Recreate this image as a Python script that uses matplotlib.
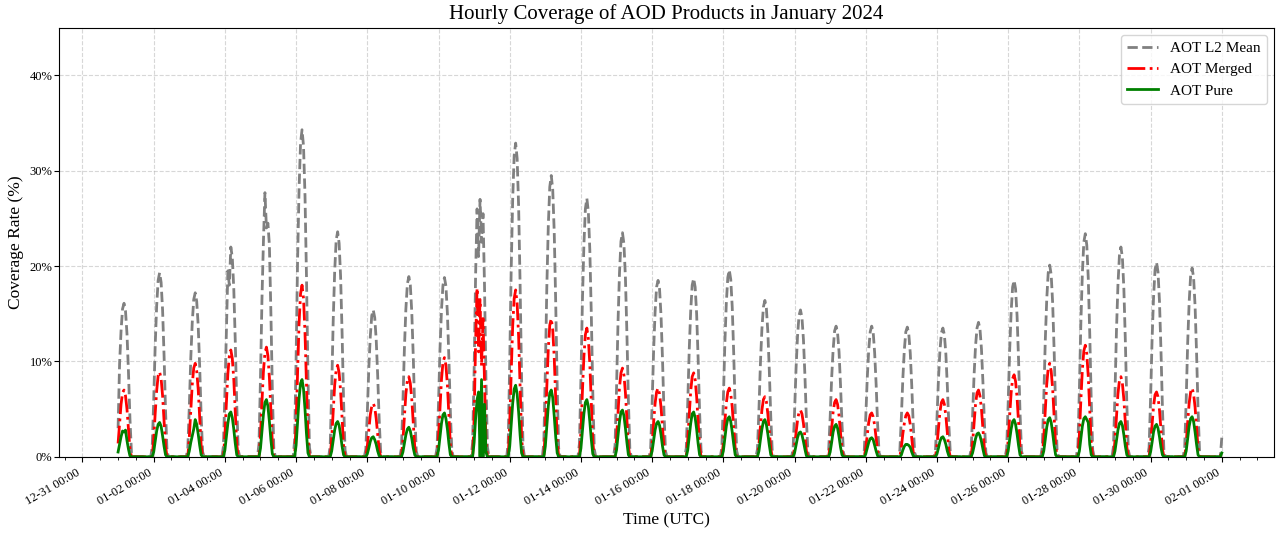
import numpy as np
import pandas as pd
import matplotlib
matplotlib.use("Agg")
import matplotlib.pyplot as plt
import matplotlib.dates as mdates
from matplotlib.ticker import PercentFormatter

plt.rcParams['font.family'] = ['Liberation Serif', 'DejaVu Serif']

# hour of the day for each value in a row (-1 = 23:00 of the previous day)
day_hours = [-1, 0, 1, 2, 3, 4, 5, 6, 7, 8, 9]

# coverage rate (%), one row per day of January 2024
l2_mean = [
    [0.0, 3.0, 9.7, 13.2, 15.5, 16.1, 15.3, 12.9, 8.9, 4.0, 0.5],
    [1.0, 5.8, 11.6, 15.8, 18.5, 19.3, 18.3, 15.4, 10.6, 4.8, 0.6],
    [0.9, 5.2, 10.3, 14.1, 16.5, 17.2, 16.3, 13.8, 9.5, 4.3, 0.5],
    [1.1, 6.6, 13.2, 19.5, 18.0, 22.0, 20.9, 17.6, 12.1, 5.5, 0.7],
    [1.4, 8.3, 16.6, 22.7, 27.7, 24.0, 24.5, 22.2, 15.2, 6.9, 0.8],
    [1.7, 10.3, 20.6, 28.1, 32.9, 34.3, 32.6, 27.4, 18.9, 8.6, 1.0],
    [1.2, 7.1, 14.2, 19.4, 22.7, 23.6, 22.4, 18.9, 13.0, 5.9, 0.7],
    [0.8, 4.6, 9.2, 12.6, 14.8, 15.4, 14.6, 12.3, 8.5, 3.9, 0.5],
    [0.9, 5.7, 11.3, 15.5, 18.1, 18.9, 18.0, 15.1, 10.4, 4.7, 0.6],
    [0.9, 5.6, 11.3, 15.4, 18.0, 18.8, 17.9, 15.0, 10.3, 4.7, 0.6],
    [1.5, 9.0, 19.0, 26.0, 21.0, 27.0, 22.5, 25.5, 18.0, 8.0, 1.0],
    [1.6, 9.9, 19.7, 27.0, 31.6, 32.9, 31.3, 26.3, 18.1, 8.2, 1.0],
    [1.5, 8.9, 17.7, 24.2, 28.3, 29.5, 28.0, 23.6, 16.2, 7.4, 0.9],
    [1.4, 8.1, 16.3, 22.2, 26.0, 27.1, 25.7, 21.7, 14.9, 6.8, 0.8],
    [1.2, 7.1, 14.1, 19.3, 22.6, 23.5, 22.3, 18.8, 12.9, 5.9, 0.7],
    [0.9, 5.6, 11.1, 15.2, 17.8, 18.5, 17.6, 14.8, 10.2, 4.6, 0.6],
    [0.9, 5.6, 11.2, 15.3, 18.0, 18.7, 17.8, 15.0, 10.3, 4.7, 0.6],
    [1.0, 5.9, 11.8, 16.1, 18.8, 19.6, 18.6, 15.7, 10.8, 4.9, 0.6],
    [0.8, 4.9, 9.8, 13.4, 15.7, 16.4, 15.6, 13.1, 9.0, 4.1, 0.5],
    [0.8, 4.6, 9.2, 12.6, 14.8, 15.4, 14.6, 12.3, 8.5, 3.9, 0.5],
    [0.7, 4.1, 8.2, 11.2, 13.2, 13.7, 13.0, 11.0, 7.5, 3.4, 0.4],
    [0.7, 4.1, 8.2, 11.2, 13.1, 13.7, 13.1, 10.9, 7.6, 3.4, 0.4],
    [0.7, 4.1, 8.2, 11.2, 13.1, 13.6, 12.9, 10.9, 7.5, 3.4, 0.4],
    [0.7, 4.0, 8.1, 11.1, 13.0, 13.5, 12.8, 10.8, 7.4, 3.4, 0.4],
    [0.7, 4.2, 8.5, 11.6, 13.5, 14.1, 13.4, 11.3, 7.8, 3.5, 0.4],
    [0.9, 5.6, 11.1, 15.2, 17.8, 18.5, 17.6, 14.8, 10.2, 4.6, 0.6],
    [1.0, 6.0, 12.1, 16.5, 19.3, 20.1, 19.1, 16.1, 11.1, 5.0, 0.6],
    [1.2, 7.0, 14.0, 19.2, 22.5, 23.4, 22.2, 18.7, 12.9, 5.9, 0.7],
    [1.1, 6.6, 13.2, 18.0, 21.1, 22.0, 20.9, 17.6, 12.1, 5.5, 0.7],
    [1.0, 6.1, 12.2, 16.7, 19.6, 20.4, 19.4, 16.3, 11.2, 5.1, 0.6],
    [1.0, 5.9, 11.9, 16.2, 19.0, 19.8, 18.8, 15.8, 10.9, 5.0, 0.6],
]

merged = [
    [0, 1.4, 3.5, 5.5, 6.7, 7.0, 6.4, 5.0, 2.9, 0.8, 0],
    [0, 1.8, 4.5, 6.9, 8.5, 8.9, 8.2, 6.4, 3.7, 1.1, 0],
    [0, 2.0, 4.9, 7.6, 9.3, 9.8, 9.0, 7.1, 4.1, 1.2, 0],
    [0, 2.2, 5.6, 8.7, 10.6, 11.2, 10.3, 8.1, 4.7, 1.3, 0],
    [0, 2.3, 5.8, 9.0, 10.9, 11.5, 10.6, 8.3, 4.8, 1.4, 0],
    [0, 3.6, 9.0, 14.0, 17.1, 18.0, 16.6, 13.0, 7.6, 2.2, 0],
    [0, 1.9, 4.8, 7.5, 9.1, 9.6, 8.8, 6.9, 4.0, 1.2, 0],
    [0, 1.1, 2.8, 4.4, 5.3, 5.6, 5.2, 4.0, 2.4, 0.7, 0],
    [0, 1.7, 4.2, 6.6, 8.0, 8.4, 7.7, 6.0, 3.5, 1.0, 0],
    [0, 2.1, 5.2, 8.1, 9.9, 10.4, 9.6, 7.5, 4.4, 1.2, 0],
    [0, 4.0, 12.0, 17.7, 11.0, 16.5, 9.5, 14.5, 8.0, 1.5, 0],
    [0, 3.5, 8.8, 13.7, 16.6, 17.5, 16.1, 12.6, 7.4, 2.1, 0],
    [0, 2.9, 7.3, 11.3, 13.8, 14.5, 13.3, 10.4, 6.1, 1.7, 0],
    [0, 2.7, 6.8, 10.5, 12.8, 13.5, 12.4, 9.7, 5.7, 1.6, 0],
    [0, 1.9, 4.7, 7.3, 8.8, 9.3, 8.6, 6.7, 3.9, 1.1, 0],
    [0, 1.4, 3.6, 5.6, 6.8, 7.2, 6.6, 5.2, 3.0, 0.9, 0],
    [0, 1.8, 4.4, 6.9, 8.4, 8.8, 8.1, 6.3, 3.7, 1.1, 0],
    [0, 1.4, 3.6, 5.6, 6.8, 7.2, 6.6, 5.2, 3.0, 0.9, 0],
    [0, 1.3, 3.2, 4.9, 6.0, 6.3, 5.8, 4.5, 2.6, 0.8, 0],
    [0, 1.0, 2.5, 3.8, 4.7, 4.9, 4.5, 3.5, 2.1, 0.6, 0],
    [0, 1.2, 3.0, 4.7, 5.7, 6.0, 5.5, 4.3, 2.5, 0.7, 0],
    [0, 0.9, 2.3, 3.6, 4.4, 4.6, 4.2, 3.3, 1.9, 0.6, 0],
    [0, 1.0, 2.4, 3.5, 4.3, 4.6, 4.3, 3.4, 1.9, 0.5, 0],
    [0, 1.2, 3.0, 4.7, 5.7, 6.0, 5.5, 4.3, 2.5, 0.7, 0],
    [0, 1.4, 3.5, 5.5, 6.7, 7.0, 6.4, 5.0, 2.9, 0.8, 0],
    [0, 1.7, 4.3, 6.7, 8.2, 8.6, 7.9, 6.2, 3.6, 1.0, 0],
    [0, 2.0, 4.9, 7.6, 9.3, 9.8, 9.0, 7.1, 4.1, 1.2, 0],
    [0, 2.3, 5.9, 9.1, 11.1, 11.7, 10.8, 8.4, 4.9, 1.4, 0],
    [0, 1.7, 4.2, 6.6, 8.0, 8.4, 7.7, 6.0, 3.5, 1.0, 0],
    [0, 1.4, 3.4, 5.3, 6.5, 6.8, 6.3, 4.9, 2.9, 0.8, 0],
    [0, 1.4, 3.6, 5.6, 6.8, 7.2, 6.6, 5.2, 3.0, 0.9, 0],
]

pure = [
    [0, 0.5, 1.3, 2.1, 2.7, 2.6, 2.8, 1.7, 0.8, 0.1, 0],
    [0, 0.5, 1.6, 2.7, 3.4, 3.6, 3.2, 2.2, 1.1, 0.2, 0],
    [0, 0.6, 1.5, 2.2, 2.9, 3.9, 3.4, 2.4, 1.2, 0.2, 0],
    [0, 0.7, 2.1, 3.5, 4.5, 4.7, 4.1, 2.9, 1.4, 0.2, 0],
    [0, 0.9, 2.7, 4.5, 5.7, 6.0, 5.3, 3.7, 1.8, 0.3, 0],
    [0, 1.2, 3.6, 6.1, 7.7, 8.1, 7.1, 5.0, 2.4, 0.4, 0],
    [0, 0.6, 1.7, 2.8, 3.5, 3.7, 3.3, 2.3, 1.1, 0.2, 0],
    [0, 0.3, 0.9, 1.6, 2.0, 2.1, 1.8, 1.3, 0.6, 0.1, 0],
    [0, 0.5, 1.4, 2.3, 2.9, 3.1, 2.7, 1.9, 0.9, 0.2, 0],
    [0, 0.7, 2.1, 3.5, 4.4, 4.6, 4.0, 2.9, 1.4, 0.2, 0],
    [0, 1.5, 4.0, 6.0, 6.8, 0, 8.1, 0, 5.5, 0.5, 0],
    [0, 1.1, 3.4, 5.6, 7.1, 7.5, 6.6, 4.7, 2.3, 0.4, 0],
    [0, 1.1, 3.2, 5.3, 6.7, 7.0, 6.2, 4.3, 2.1, 0.4, 0],
    [0, 0.9, 2.7, 4.5, 5.7, 6.0, 5.3, 3.7, 1.8, 0.3, 0],
    [0, 0.7, 2.2, 3.7, 4.7, 4.9, 4.3, 3.0, 1.5, 0.2, 0],
    [0, 0.6, 1.7, 2.8, 3.5, 3.7, 3.3, 2.3, 1.1, 0.2, 0],
    [0, 0.7, 2.1, 3.5, 4.5, 4.7, 4.1, 2.9, 1.4, 0.2, 0],
    [0, 0.6, 1.9, 3.2, 4.0, 4.2, 3.7, 2.6, 1.3, 0.2, 0],
    [0, 0.6, 1.8, 2.9, 3.7, 3.9, 3.4, 2.4, 1.2, 0.2, 0],
    [0, 0.4, 1.2, 2.0, 2.5, 2.6, 2.3, 1.6, 0.8, 0.1, 0],
    [0, 0.5, 1.5, 2.6, 3.2, 3.4, 3.0, 2.1, 1.0, 0.2, 0],
    [0, 0.3, 0.9, 1.5, 1.9, 2.0, 1.8, 1.2, 0.6, 0.1, 0],
    [0, 0.2, 0.7, 1.1, 1.3, 1.3, 1.2, 1.0, 0.5, 0.1, 0],
    [0, 0.3, 0.9, 1.6, 2.0, 2.1, 1.8, 1.3, 0.6, 0.1, 0],
    [0, 0.4, 1.1, 1.9, 2.4, 2.5, 2.2, 1.6, 0.8, 0.1, 0],
    [0, 0.6, 1.8, 2.9, 3.7, 3.9, 3.4, 2.4, 1.2, 0.2, 0],
    [0, 0.6, 1.8, 3.1, 3.9, 4.1, 3.6, 2.5, 1.2, 0.2, 0],
    [0, 0.6, 1.9, 3.2, 4.0, 4.2, 3.9, 3.6, 1.3, 0.2, 0],
    [0, 0.6, 1.7, 2.8, 3.5, 3.7, 3.3, 2.3, 1.1, 0.2, 0],
    [0, 0.5, 1.5, 2.6, 3.2, 3.4, 3.0, 2.1, 1.0, 0.2, 0],
    [0, 0.6, 1.9, 3.2, 4.0, 4.2, 3.7, 2.6, 1.3, 0.2, 0],
]

# last record, 02-01 00:00
last_mean, last_merged, last_pure = 2.0, 0.6, 0.4

times = pd.date_range('2024-01-01 00:00', '2024-02-01 00:00', freq='h')


def to_hourly(rows, last):
    s = pd.Series(0.0, index=times)
    for d, row in enumerate(rows):
        day0 = times[0] + pd.Timedelta(days=d)
        for h, v in zip(day_hours, row):
            t = day0 + pd.Timedelta(hours=h)
            if t in s.index:
                s[t] = v
    s.iloc[-1] = last
    return s


mean_s = to_hourly(l2_mean, last_mean)
merged_s = to_hourly(merged, last_merged)
pure_s = to_hourly(pure, last_pure)

fig, ax = plt.subplots(figsize=(12.77, 5.33), dpi=100)
ax.plot(times, mean_s, color='gray', linestyle='--', linewidth=2, label='AOT L2 Mean')
ax.plot(times, merged_s, color='red', linestyle='-.', linewidth=2, label='AOT Merged')
ax.plot(times, pure_s, color='green', linestyle='-', linewidth=2, label='AOT Pure')

ax.set_title('Hourly Coverage of AOD Products in January 2024', fontsize=15)
ax.set_xlabel('Time (UTC)', fontsize=12.5)
ax.set_ylabel('Coverage Rate (%)', fontsize=12.5)

ax.set_ylim(0, 45)
ax.set_yticks([0, 10, 20, 30, 40])
ax.yaxis.set_major_formatter(PercentFormatter(decimals=0))

ax.set_xlim(pd.Timestamp('2023-12-30 08:00'), pd.Timestamp('2024-02-02 11:30'))
ax.set_xticks(pd.date_range('2023-12-31', '2024-02-01', freq='2D'))
ax.xaxis.set_major_formatter(mdates.DateFormatter('%m-%d %H:%M'))
ax.xaxis.set_minor_locator(mdates.HourLocator(byhour=[0, 12]))
plt.setp(ax.get_xticklabels(), rotation=30, ha='right')
ax.tick_params(labelsize=9)
ax.tick_params(axis='y', pad=1)

ax.grid(True, linestyle='--', alpha=0.5)
ax.legend(loc='upper right', fontsize=11)

fig.subplots_adjust(left=0.046, right=0.998, top=0.948, bottom=0.143)
fig.savefig('out.png', dpi=100)
